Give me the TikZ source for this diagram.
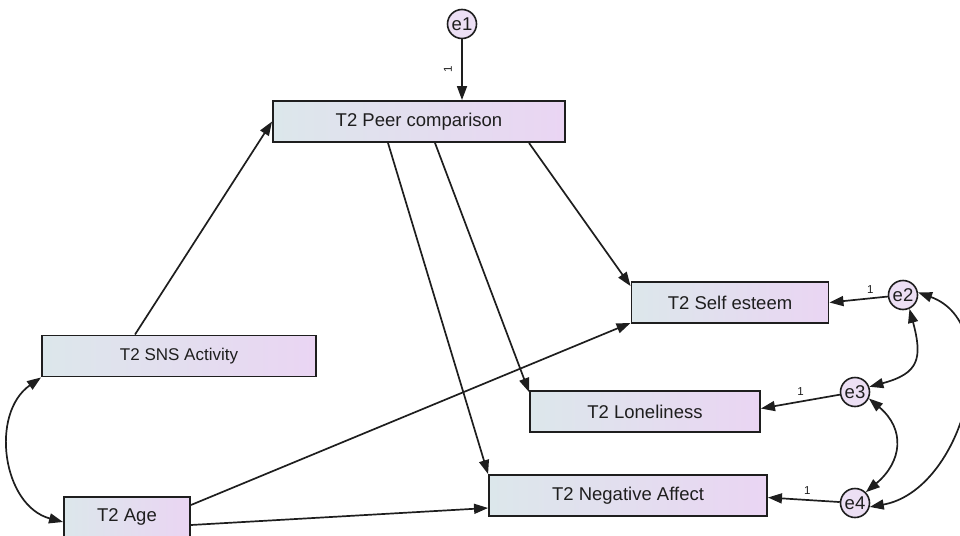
\documentclass[tikz,border=0pt]{standalone}
\usepackage{fontspec}
\setmainfont{Liberation Sans}
\usetikzlibrary{arrows.meta,calc}
\definecolor{boxleft}{RGB}{220,231,235}
\definecolor{boxright}{RGB}{234,213,243}
\definecolor{errfill}{RGB}{236,223,244}
\definecolor{ink}{HTML}{1E1E1E}

\tikzset{
  obs/.style={draw=ink, line width=1.9pt, left color=boxleft, right color=boxright,
    minimum height=41pt, inner sep=0pt, text=ink, font=\fontsize{18.5}{22}\selectfont},
  err/.style={circle, draw=ink, line width=1.6pt, fill=errfill, minimum size=29pt,
    inner sep=0pt, text=ink, font=\fontsize{18.5}{20}\selectfont},
  reg/.style={-{Triangle[length=14pt,width=10pt]}, line width=1.7pt, ink},
  cov/.style={{Triangle[length=14pt,width=10pt]}-{Triangle[length=14pt,width=10pt]}, line width=1.7pt, ink},
  wt/.style={font=\fontsize{11.5}{12}\selectfont, text=ink, inner sep=1pt}
}

\begin{document}
\begin{tikzpicture}[x=1pt,y=1pt]
  \useasboundingbox (0,0) rectangle (960,-535);

  % observed variables
  \node[obs, minimum width=292pt] (pc) at (419,-121.5) {T2 Peer comparison};
  \node[obs, minimum width=274pt, font=\fontsize{17}{20}\selectfont] (sns) at (179,-356) {T2 SNS Activity};
  \node[obs, minimum width=126pt, minimum height=40pt] (age) at (127,-517) {T2 Age};
  \node[obs, minimum width=197pt] (se) at (730,-302.5) {T2 Self esteem};
  \node[obs, minimum width=230pt] (lo) at (645,-411.5) {T2 Loneliness};
  \node[obs, minimum width=278pt] (na) at (628,-495.5) {T2 Negative Affect};

  % error terms
  \node[err] (e1) at (462,-24) {e1};
  \node[err] (e2) at (903,-295) {e2};
  \node[err] (e3) at (855,-392) {e3};
  \node[err] (e4) at (855,-503) {e4};

  % regression paths
  \draw[reg] ([xshift=-44pt]sns.north) -- (pc.west);
  \draw[reg] ([xshift=-31pt]pc.south) -- (na.north west);
  \draw[reg] ([xshift=16pt]pc.south) -- ([yshift=-2pt]lo.north west);
  \draw[reg] ([xshift=110pt]pc.south) -- ([yshift=-5pt]se.north west);
  \draw[reg] ([yshift=12pt]age.east) -- ([yshift=1pt]se.south west);
  \draw[reg] ([yshift=-8pt]age.east) -- ([yshift=-12.5pt]na.west);

  % error loadings
  \draw[reg] (e1.south) -- node[wt, pos=0.5, xshift=-14pt, rotate=90] {1} (e1.south |- pc.north);
  \draw[reg] (e2) -- node[wt, pos=0.3, above=3pt] {1} (se.east);
  \draw[reg] (e3) -- node[wt, pos=0.5, above=4pt] {1} ([yshift=3pt]lo.east);
  \draw[reg] (e4) -- node[wt, pos=0.45, above=4pt] {1} ([yshift=-2pt]na.east);

  % covariances
  \draw[cov] (sns.south west) to[out=215,in=165,looseness=1.1] ([yshift=-5pt]age.west);
  \draw[cov] (e2.-65) to[out=-75,in=15,looseness=1.5] (e3.20);
  \draw[cov] (e3.-25) to[out=-40,in=40,looseness=1.3] (e4.45);
  \draw[cov] (e2.10) to[out=-20,in=10,looseness=1.1] (e4.-15);
\end{tikzpicture}
\end{document}
